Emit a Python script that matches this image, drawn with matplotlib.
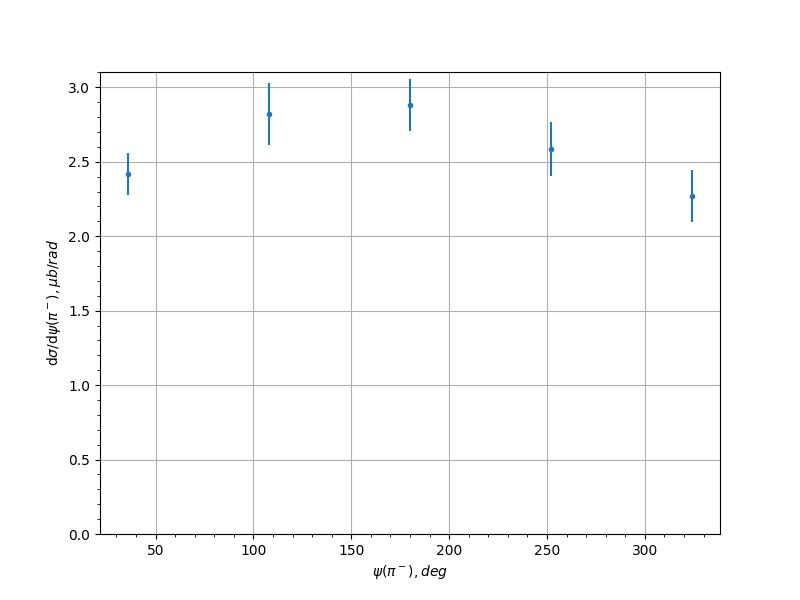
import numpy as np
import matplotlib
matplotlib.use("Agg")
import matplotlib.pyplot as plt

#------- valeurs -------
psi = [36, 108, 180, 252, 324]
dsig = [2.415, 2.820, 2.880, 2.583, 2.268]
err = [0.141, 0.208, 0.175, 0.181, 0.175]
#------------------------------------------

fig, ax = plt.subplots(figsize=(8, 6), dpi=100)

ax.errorbar(psi, dsig, yerr=err, fmt='.')

ax.set_ylim(bottom=0)
ax.minorticks_on()
ax.grid()

ax.set_xlabel(r'$\psi(\pi^-), deg$')
ax.set_ylabel(r'd$\sigma$/d$\psi(\pi^-), \mu b/rad$')

plt.savefig("out.png")
